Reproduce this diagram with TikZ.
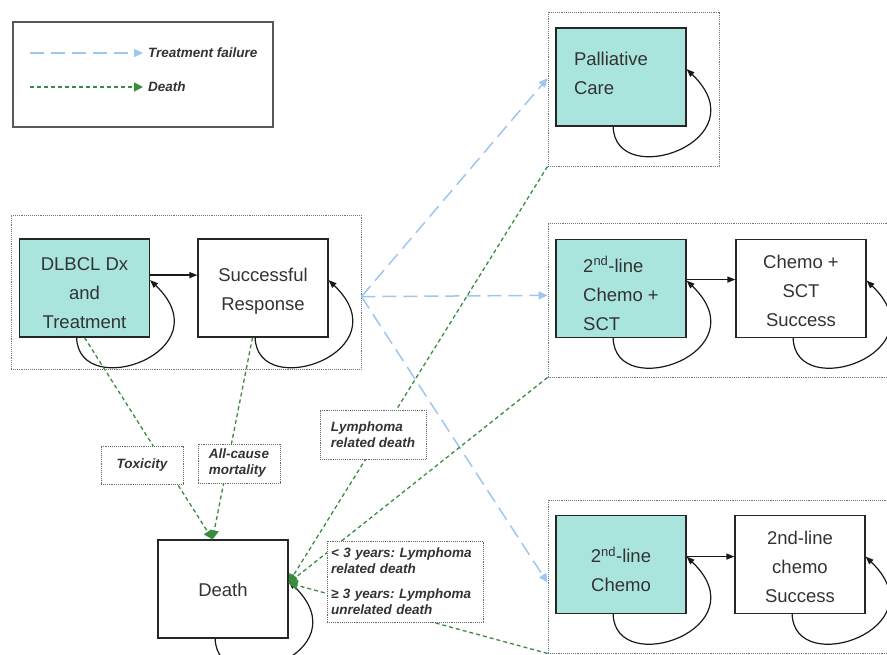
\documentclass[tikz,border=0pt]{standalone}
\usepackage{fontspec}
\setmainfont{Liberation Sans}
\usetikzlibrary{arrows.meta,calc}
\definecolor{tealfill}{HTML}{A9E4DD}
\definecolor{gline}{HTML}{3A8C3F}
\definecolor{bline}{HTML}{9DC6F0}
\definecolor{txt}{HTML}{333333}
\frenchspacing
\begin{document}
\begin{tikzpicture}[x=1pt,y=-1pt,
 state/.style={draw=black!85,line width=1.2pt,minimum width=130pt,minimum height=98pt,inner sep=0pt},
 tealbox/.style={state,fill=tealfill},
 stext/.style={inner sep=0pt,font=\fontsize{18.5}{29}\selectfont,text=txt},
 grp/.style={draw=black!55,densely dotted,line width=0.9pt,inner sep=0pt},
 lbl/.style={draw=black!60,densely dotted,line width=0.9pt,fill=white,inner sep=0pt,font=\fontsize{13.5}{16}\selectfont\bfseries\itshape\frenchspacing,text=txt},
 legtext/.style={anchor=west,inner sep=0pt,font=\fontsize{13.5}{16}\selectfont\bfseries\itshape,text=txt},
 fail/.style={bline,line width=1.5pt,dash pattern=on 14pt off 7pt,-{Triangle[length=9pt,width=8pt]}},
 die/.style={gline,line width=1.3pt,dash pattern=on 4pt off 3pt,-{Triangle[length=9pt,width=9pt]}},
 selfloop/.style={black!90,line width=1.2pt,-{Triangle[length=8pt,width=6pt]}},
 solidarrow/.style={black!90,line width=1.3pt,-{Triangle[length=8pt,width=6pt]}},
 ]
\clip (0,0) rectangle (887,655);

% legend
\node[draw=black!65,line width=1.2pt,minimum width=260pt,minimum height=105pt,inner sep=0pt] (legend) at (143,74.5) {};
\coordinate (lf1) at (30,53);
\coordinate (lf2) at (143,53);
\coordinate (ld1) at (30,87);
\coordinate (ld2) at (143,87);
\draw[fail] (lf1) -- (lf2);
\draw[die] (ld1) -- (ld2);
\node[legtext] (lt1) at (148,53) {Treatment failure};
\node[legtext] (lt2) at (148,87) {Death};

% group boxes
\node[grp,minimum width=350pt,minimum height=154pt] (g1) at (186,292) {};
\node[grp,minimum width=171pt,minimum height=154pt] (gP) at (633.5,89) {};
\node[grp,minimum width=352pt,minimum height=154pt] (gS) at (724,300) {};
\node[grp,minimum width=352pt,minimum height=153pt] (gC) at (724,576.5) {};

% states
\node[tealbox] (dlbcl) at (84.5,288) {};
\node[state] (sr) at (263,288) {};
\node[tealbox] (pal) at (621,77) {};
\node[tealbox] (csct) at (621,288.5) {};
\node[state] (csctS) at (801,288.5) {};
\node[tealbox] (chemo) at (621,564.5) {};
\node[state] (chemoS) at (800,564.5) {};
\node[state] (death) at (223,589) {};

\node[stext,align=center] (dlbclT) at ([yshift=-5pt]dlbcl.center) {DLBCL Dx\\and\\Treatment};
\node[stext,align=center] (srT) at ([yshift=-3pt]sr.center) {Successful\\Response};
\node[stext,align=left,text width=94pt] (palT) at ([yshift=4pt]pal.center) {Palliative\\Care};
\node[stext,align=left] (csctT) at ([yshift=-5pt]csct.center) {2\textsuperscript{nd}-line\\Chemo +\\SCT};
\node[stext,align=center] (csctST) at ([yshift=-2pt]csctS.center) {Chemo +\\SCT\\Success};
\node[stext,align=center] (chemoT) at ([yshift=-5pt]chemo.center) {2\textsuperscript{nd}-line\\Chemo};
\node[stext,align=center] (chemoST) at ([yshift=-2pt]chemoS.center) {2nd-line\\chemo\\Success};
\node[stext] (deathT) at ([yshift=-1pt]death.center) {Death};

% forward arrows
\foreach \a/\b/\f in {dlbcl/sr/0.37,csct/csctS/0.41,chemo/chemoS/0.42}{
  \coordinate (st) at ($(\a.north east)!\f!(\a.south east)$);
  \draw[solidarrow] (st) -- (st -| \b.west);
}

% self loops
\foreach \n in {dlbcl,sr,pal,csct,csctS,chemo,chemoS,death}
  \draw[selfloop] ($(\n.south west)!0.44!(\n.south east)$) .. controls +(2,65) and +(75,72) .. ($(\n.north east)!0.42!(\n.south east)$);

% treatment failure
\coordinate (fo) at ($(g1.north east)!0.53!(g1.south east)$);
\draw[fail] (fo) -- ($(gP.north west)!0.43!(gP.south west)$);
\draw[fail] (fo) -- ($(gS.north west)!0.47!(gS.south west)$);
\draw[fail] (fo) -- ($(gC.north west)!0.54!(gC.south west)$);

% deaths
\coordinate (dtop) at ($(death.north west)!0.42!(death.north east)$);
\coordinate (dright) at ($(death.north east)!0.44!(death.south east)$);
\draw[die] (dlbcl.south) -- (dtop);
\draw[die] ($(sr.south west)!0.42!(sr.south east)$) -- (dtop);
\draw[die] (gP.south west) -- (dright);
\draw[die] (gS.south west) -- (dright);
\draw[die] (gC.south west) -- (dright);

% labels
\node[lbl,minimum width=82pt,minimum height=38pt] (tox) at (142,465) {Toxicity};
\node[lbl,minimum width=82pt,minimum height=39pt,align=left] (acm) at (239,463.5) {All-cause\\mortality};
\node[lbl,minimum width=106pt,minimum height=49pt,align=left] (lrd) at (373,434.5) {Lymphoma\\related death};
\node[lbl,minimum width=156pt,minimum height=81pt,align=left,text width=148pt] (yrs) at (405,581.5) {< 3 years: Lymphoma\\related death\\[9pt]≥ 3 years: Lymphoma\\unrelated death};
\end{tikzpicture}
\end{document}
